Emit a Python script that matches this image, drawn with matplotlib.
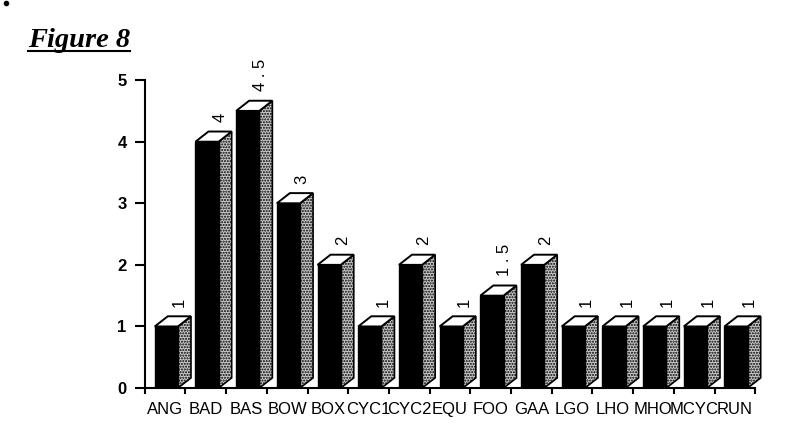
import matplotlib
matplotlib.use("Agg")
import matplotlib.pyplot as plt
from matplotlib.patches import Polygon
import numpy as np

categories = ["ANG", "BAD", "BAS", "BOW", "BOX", "CYC1", "CYC2", "EQU", "FOO",
              "GAA", "LGO", "LHO", "MHO", "MCYC", "RUN"]
values = [1, 4, 4.5, 3, 2, 1, 2, 1, 1.5, 2, 1, 1, 1, 1, 1]
value_labels = ["1", "4", "4 . 5", "3", "2", "1", "2", "1", "1 . 5", "2", "1", "1", "1", "1", "1"]
yticks = [0, 1, 2, 3, 4, 5]

fig = plt.figure(figsize=(8, 4.45), dpi=100)
ax = fig.add_axes([0.181, 0.128, 0.763, 0.692])
ax.set_xlim(0, len(categories))
ax.set_ylim(0, 5)

front_left = 0.245
front_w = 0.57
dx = 0.32
dy = 0.165

x0 = np.arange(len(categories)) + front_left
ax.bar(x0, values, width=front_w, align="edge", color="black", edgecolor="black",
       linewidth=1, zorder=3)
for xl, v, lab in zip(x0, values, value_labels):
    xr = xl + front_w
    side = Polygon([(xr, 0), (xr, v), (xr + dx, v + dy), (xr + dx, dy)], closed=True,
                   facecolor="#c8c8c8", edgecolor="black", hatch="......", linewidth=1.2,
                   zorder=2, clip_on=False)
    ax.add_patch(side)
    top = Polygon([(xl, v), (xl + dx, v + dy), (xr + dx, v + dy), (xr, v)], closed=True,
                  facecolor="white", edgecolor="black", linewidth=1.4, zorder=4,
                  clip_on=False)
    ax.add_patch(top)
    ax.text(xl + front_w / 2 + dx, v + dy + 0.15, lab, rotation=90, ha="center",
            va="bottom", fontsize=12, family="Liberation Sans", clip_on=False)

for s in ["top", "right"]:
    ax.spines[s].set_visible(False)
ax.spines["left"].set_linewidth(1.5)
ax.spines["bottom"].set_linewidth(1.5)

ax.set_yticks(yticks)
ax.set_yticklabels([str(t) for t in yticks], fontsize=12, fontweight="bold",
                   family="Liberation Sans")
ax.tick_params(axis="y", direction="out", length=7, width=1.5, pad=6)

ax.set_xticks(np.arange(len(categories)) + 0.5)
ax.set_xticklabels(categories, fontsize=12, family="Liberation Sans")
ax.tick_params(axis="x", which="major", length=0, pad=10)
ax.set_xticks(np.arange(len(categories) + 1), minor=True)
ax.tick_params(axis="x", which="minor", direction="out", length=4, width=1.5)

t = fig.text(0.035, 0.894, "Figure 8", fontsize=20.5, fontweight="bold", fontstyle="italic",
             family="Liberation Serif", ha="left", va="baseline")
fig.canvas.draw()
bb = t.get_window_extent()
inv = fig.transFigure.inverted()
(xa, ya), (xb, yb) = inv.transform([(bb.x0, bb.y0), (bb.x1, bb.y0)])
fig.add_artist(plt.Line2D([xa, xb], [ya + 0.006, ya + 0.006], color="black", lw=1.5,
                          transform=fig.transFigure))
fig.add_artist(plt.Line2D([0.007], [0.994], marker="o", markersize=3, color="black",
                          transform=fig.transFigure))

fig.savefig("out.png", dpi=100)
